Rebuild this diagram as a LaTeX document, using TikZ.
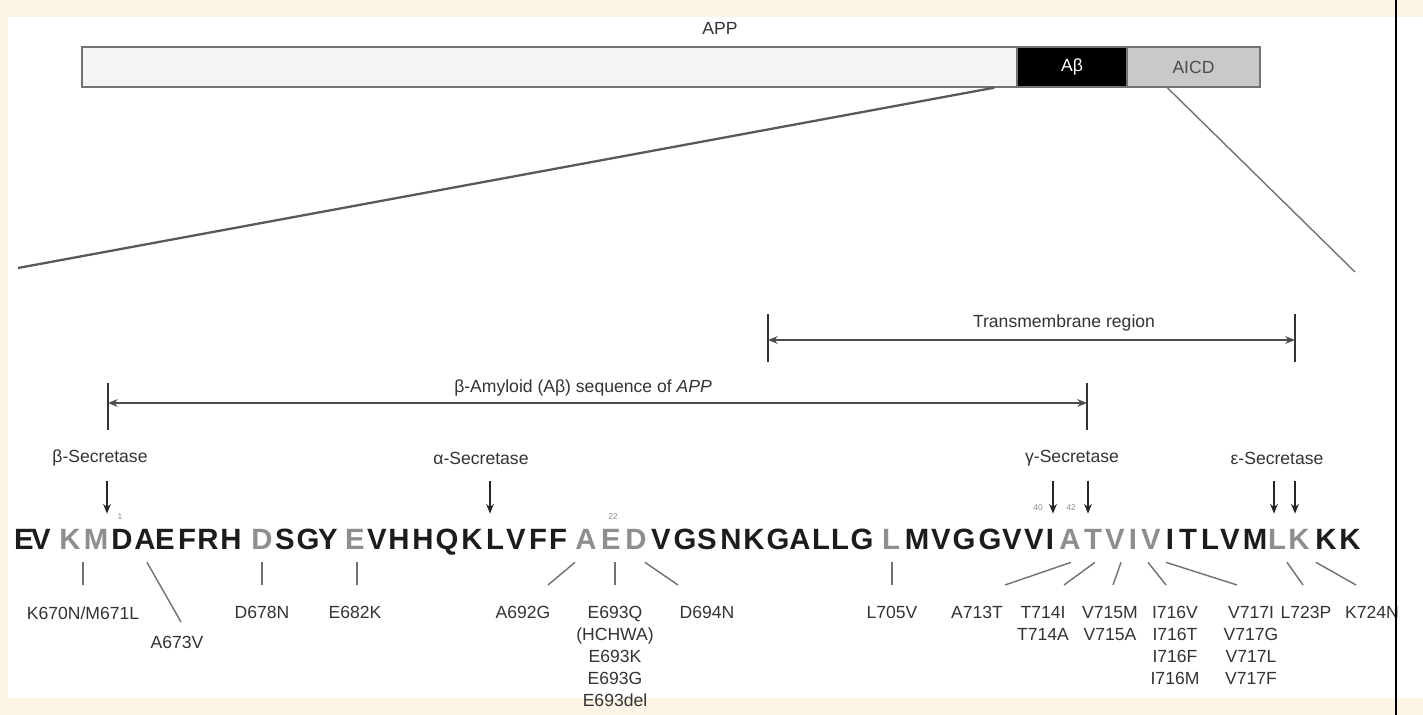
\documentclass[tikz,border=0pt]{standalone}
\usepackage{fontspec}
\setmainfont{Liberation Sans}
\usetikzlibrary{positioning,arrows.meta,calc}
\definecolor{cream}{HTML}{FCF4E4}
\definecolor{seqdark}{HTML}{1C1C1C}
\definecolor{seqgray}{HTML}{8E8E8E}
\definecolor{linegray}{HTML}{707070}
\definecolor{bodyfill}{HTML}{F4F4F4}
\definecolor{aicdfill}{HTML}{C9C9C9}

\begin{document}
\begin{tikzpicture}[x=0.02cm, y=-0.02cm, >={Stealth[length=5.5pt,width=4.4pt]},
    lbl/.style={font=\fontsize{10}{12.5}\selectfont, text=black!80, inner sep=0pt},
    mut/.style={lbl, anchor=north, align=center},
    aa/.style={font=\fontsize{16.7}{20}\selectfont\bfseries, inner sep=0pt, anchor=base, text height=0.42cm, text depth=0pt},
    resnum/.style={font=\fontsize{4.8}{5}\selectfont, text=seqgray, inner sep=0pt},
    mutline/.style={linegray, line width=0.8pt},
    cleave/.style={->, line width=0.85pt, black!85},
    spanarrow/.style={<->, line width=1.1pt, black!70},
    endtick/.style={line width=0.8pt, black!80},
    barpart/.style={draw=black!55, line width=0.8pt, minimum height=0.8cm, inner sep=0pt, font=\fontsize{10}{12}\selectfont}]

    \useasboundingbox (0,0) rectangle (1423,715);
    % page background
    \fill[cream] (0,0) rectangle (1423,715);
    \fill[white] (8,17) rectangle (1423,698);

    % APP precursor bar
    \node[lbl] (app) at (720,28) {APP};
    \node[barpart, fill=bodyfill, minimum width=18.7cm] (body) at (549.5,67) {};
    \node[barpart, fill=black, text=white, minimum width=2.2cm] (abeta) at (1072,67) {Aβ};
    \node[barpart, fill=aicdfill, text=black!70, minimum width=2.66cm] (aicd) at (1193.5,67) {AICD};

    % zoom lines
    \coordinate (zl) at (18,268);
    \coordinate (zr) at (1355,272);
    \draw[black!65, line width=1.3pt] ($(abeta.south west)+(-22,0)$) -- (zl);
    \draw[black!55, line width=0.8pt] ($(aicd.south west)+(41,0)$) -- (zr);

    % sequence
    \foreach \x/\c/\s [count=\i] in {24/E/seqdark, 41/V/seqdark, 70/K/seqgray, 96/M/seqgray,
        122/D/seqdark, 145/A/seqdark, 165/E/seqdark, 187/F/seqdark, 208/R/seqdark, 231/H/seqdark,
        262/D/seqgray, 285/S/seqdark, 308/G/seqdark, 328/Y/seqdark, 355/E/seqgray, 377/V/seqdark,
        399/H/seqdark, 423/H/seqdark, 447/Q/seqdark, 472/K/seqdark, 495/L/seqdark, 516/V/seqdark,
        538/F/seqdark, 558/F/seqdark, 586/A/seqgray, 611/E/seqgray, 636/D/seqgray, 661/V/seqdark,
        685/G/seqdark, 707/S/seqdark, 731/N/seqdark, 754/K/seqdark, 778/G/seqdark, 800/A/seqdark,
        821/L/seqdark, 840/L/seqdark, 862/G/seqdark, 891/L/seqgray, 917/M/seqdark, 941/V/seqdark,
        964/G/seqdark, 990/G/seqdark, 1012/V/seqdark, 1034/V/seqdark, 1050/I/seqdark, 1070/A/seqgray,
        1093/T/seqgray, 1115/V/seqgray, 1133/I/seqgray, 1151/V/seqgray, 1170/I/seqdark, 1188/T/seqdark,
        1210/L/seqdark, 1230/V/seqdark, 1255/M/seqdark, 1277/L/seqgray, 1299/K/seqgray, 1326/K/seqdark,
        1350/K/seqdark}
        \node[aa, text=\s] (s\i) at (\x,550) {\c};

    % residue numbers
    \node[resnum] (n1) at (120,517) {1};
    \node[resnum] (n22) at (613,517) {22};
    \node[resnum] (n40) at (1038,508) {40};
    \node[resnum] (n42) at (1071,508) {42};

    % secretases
    \node[lbl] (bsec) at (100,458) {β-Secretase};
    \node[lbl] (asec) at (481,458) {α-Secretase};
    \node[lbl] (gsec) at (1072,458) {γ-Secretase};
    \node[lbl] (esec) at (1277,458) {ε-Secretase};
    \foreach \n/\dx in {4/11, 20/18, 45/3, 47/-5, 56/-3, 57/-4}
        \draw[cleave] ($(s\n.north)+(\dx,-48)$) -- ++(0,33);

    % transmembrane region
    \coordinate (tmL) at (768,340);
    \coordinate (tmR) at (1295,340);
    \draw[endtick] ($(tmL)+(0,-26)$) -- ++(0,48);
    \draw[endtick] ($(tmR)+(0,-26)$) -- ++(0,48);
    \draw[spanarrow] (tmL) -- (tmR);
    \node[lbl] (tm) at (1064,323) {Transmembrane region};

    % amyloid beta sequence
    \coordinate (abL) at (108,403);
    \coordinate (abR) at (1087,403);
    \draw[endtick] ($(abL)+(0,-20)$) -- ++(0,47);
    \draw[endtick] ($(abR)+(0,-20)$) -- ++(0,47);
    \draw[spanarrow] (abL) -- (abR);
    \node[lbl] (ab) at (583,388) {β-Amyloid (Aβ) sequence of \textit{APP}};

    % mutations
    \node[mut] (m670) at (83,606) {K670N/M671L};
    \node[mut] (m673) at (177,636) {A673V};
    \node[mut] (m678) at (262,606) {D678N};
    \node[mut] (m682) at (355,606) {E682K};
    \node[mut] (m692) at (523,606) {A692G};
    \node[mut] (m693) at (615,606) {E693Q\\(HCHWA)\\E693K\\E693G\\E693del};
    \node[mut] (m694) at (707,606) {D694N};
    \node[mut] (m705) at (892,606) {L705V};
    \node[mut] (m713) at (977,606) {A713T};
    \node[mut] (m714) at (1043,606) {T714I\\T714A};
    \node[mut] (m715) at (1110,606) {V715M\\V715A};
    \node[mut] (m716) at (1175,606) {I716V\\I716T\\I716F\\I716M};
    \node[mut] (m717) at (1251,606) {V717I\\V717G\\V717L\\V717F};
    \node[mut] (m723) at (1306,606) {L723P};
    \node[mut] (m724) at (1372,606) {K724N};

    \draw[mutline] ($(s4.south)+(-13,12)$) -- ($(m670.north)+(0,-21)$);
    \draw[mutline] ($(s6.south)+(2,12)$) -- ($(m673.north)+(4,-14)$);
    \draw[mutline] ($(s11.south)+(0,12)$) -- ($(m678.north)+(0,-21)$);
    \draw[mutline] ($(s15.south)+(2,12)$) -- ($(m682.north)+(2,-21)$);
    \draw[mutline] ($(s25.south)+(-11,12)$) -- ($(m692.north)+(25,-21)$);
    \draw[mutline] ($(s26.south)+(4,12)$) -- ($(m693.north)+(0,-21)$);
    \draw[mutline] ($(s27.south)+(9,12)$) -- ($(m694.north)+(-29,-21)$);
    \draw[mutline] ($(s38.south)+(1,12)$) -- ($(m705.north)+(0,-21)$);
    \draw[mutline] ($(s46.south)+(1,12)$) -- ($(m713.north)+(28,-21)$);
    \draw[mutline] ($(s47.south)+(2,12)$) -- ($(m714.north)+(21,-21)$);
    \draw[mutline] ($(s48.south)+(6,12)$) -- ($(m715.north)+(3,-21)$);
    \draw[mutline] ($(s49.south)+(15,12)$) -- ($(m716.north)+(-9,-21)$);
    \draw[mutline] ($(s50.south)+(15,12)$) -- ($(m717.north)+(-14,-21)$);
    \draw[mutline] ($(s56.south)+(10,12)$) -- ($(m723.north)+(-3,-21)$);
    \draw[mutline] ($(s57.south)+(17,12)$) -- ($(m724.north)+(-16,-21)$);

    % right border line
    \draw[black, line width=1.2pt] (1396,0) -- (1396,715);
\end{tikzpicture}
\end{document}
